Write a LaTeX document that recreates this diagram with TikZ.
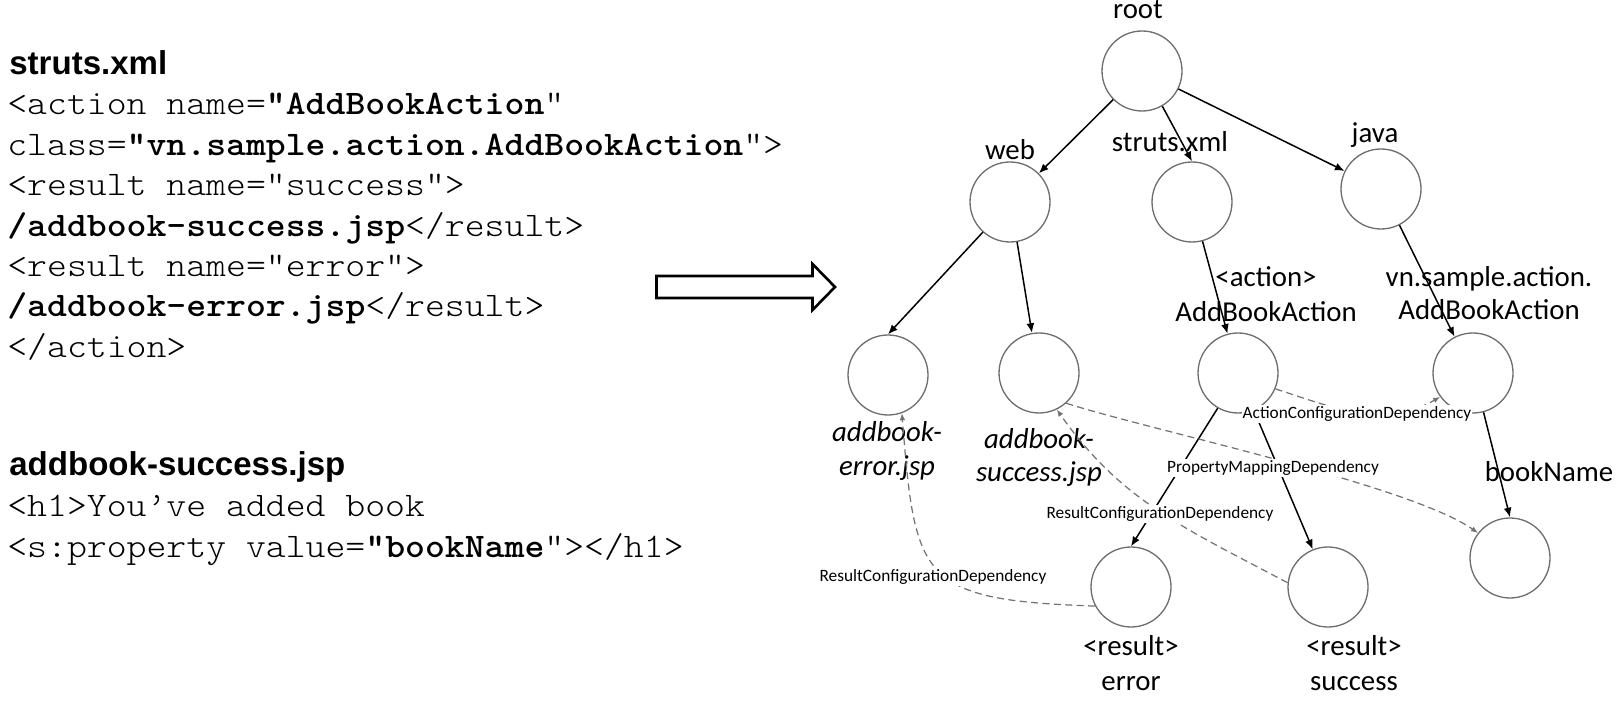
\documentclass[tikz,border=0pt]{standalone}
\usepackage{fontspec}
\setmainfont{Carlito}
\setmonofont{lmmonolt10-regular}[Extension=.otf, BoldFont=lmmonolt10-bold, FakeStretch=1.1]
\newfontfamily\headfont{Liberation Sans}
\usetikzlibrary{arrows.meta,shapes}

\begin{document}
\begin{tikzpicture}
	\tikzstyle{Dir}		= [circle, draw=black!57, line width=0.75pt, fill=white, minimum size=1.6cm, inner sep=0pt]
	\tikzstyle{Name}	= [inner sep=0pt, anchor=base, font=\fontsize{16.4}{19}\selectfont]
	\tikzstyle{File}	= [Name, font=\fontsize{16.4}{19}\selectfont\itshape]
	\tikzstyle{Dep}		= [fill=white, inner sep=0.6pt, font=\fontsize{9.85}{11}\selectfont]
	\tikzstyle{Code}	= [inner sep=0pt, anchor=base west, font=\ttfamily\fontsize{19.6}{22}\selectfont]
	\tikzstyle{Head}	= [inner sep=0pt, anchor=base west, font=\headfont\bfseries\fontsize{18.8}{22}\selectfont]
	\tikzstyle{Contain}	= [-{Latex[length=5.5pt,width=4.5pt]}, line width=0.85pt]
	\tikzstyle{Ref}		= [-{Latex[length=4pt,width=3.2pt]}, dash pattern=on 4pt off 2.5pt, line width=0.7pt, black!55]

	\useasboundingbox (0,0) rectangle (32.4,14);

	% struts.xml
	\node (hd1) at (0.18,12.50) [Head] {struts.xml};
	\node (c1) at (0.14,11.70) [Code] {<action name=\textbf{"AddBookAction}"};
	\node (c2) at (0.14,10.88) [Code] {class=\textbf{"vn.sample.action.AddBookAction}">};
	\node (c3) at (0.14,10.08) [Code] {<result name="success">};
	\node (c4) at (0.14,9.26) [Code] {\textbf{/addbook-success.jsp}</result>};
	\node (c5) at (0.14,8.46) [Code] {<result name="error">};
	\node (c6) at (0.14,7.66) [Code] {\textbf{/addbook-error.jsp}</result>};
	\node (c7) at (0.14,6.84) [Code] {</action>};

	% addbook-success.jsp
	\node (hd2) at (0.18,4.48) [Head] {addbook-success.jsp};
	\node (c8) at (0.14,3.68) [Code] {<h1>You’ve added book};
	\node (c9) at (0.14,2.86) [Code] {<s:property value=\textbf{”bookName}”></h1>};

	% hollow arrow
	\draw [line width=1.5pt, fill=white] (13.13,8.48) -- (16.25,8.48) -- (16.25,8.72) -- (16.70,8.26)
		-- (16.25,7.80) -- (16.25,8.04) -- (13.13,8.04) -- cycle;

	% tree
	\node (root) at (22.84,12.58) [Dir] {};
	\node (web) at (20.20,9.96) [Dir] {};
	\node (strutsxml) at (23.84,9.96) [Dir] {};
	\node (java) at (27.62,10.22) [Dir] {};
	\node (err) at (17.76,6.50) [Dir] {};
	\node (succ) at (20.78,6.54) [Dir] {};
	\node (action) at (24.76,6.54) [Dir] {};
	\node (cls) at (29.46,6.54) [Dir] {};
	\node (book) at (30.20,2.84) [Dir] {};
	\node (reserr) at (22.62,2.26) [Dir] {};
	\node (ressucc) at (26.56,2.26) [Dir] {};

	\node (l-root) at (22.76,13.63) [Name] {root};
	\node (l-web) at (20.20,10.80) [Name] {web};
	\node (l-struts) at (23.40,10.96) [Name] {struts.xml};
	\node (l-java) at (27.50,11.14) [Name] {java};
	\node (l-action1) at (25.32,8.26) [Name] {<action>};
	\node (l-action2) at (25.32,7.56) [Name] {AddBookAction};
	\node (l-cls1) at (29.78,8.26) [Name] {vn.sample.action.};
	\node (l-cls2) at (29.78,7.60) [Name] {AddBookAction};
	\node (l-book) at (30.98,4.36) [Name] {bookName};
	\node (l-err1) at (17.74,5.16) [File] {addbook-};
	\node (l-err2) at (17.74,4.48) [File] {error.jsp};
	\node (l-succ1) at (20.78,5.02) [File] {addbook-};
	\node (l-succ2) at (20.78,4.36) [File] {success.jsp};
	\node (l-reserr1) at (22.62,0.90) [Name] {<result>};
	\node (l-reserr2) at (22.62,0.20) [Name] {error};
	\node (l-ressucc1) at (27.08,0.90) [Name] {<result>};
	\node (l-ressucc2) at (27.08,0.20) [Name] {success};

	\draw [Contain] (root) -- (web);
	\draw [Contain] (root.300) -- (strutsxml.north);
	\draw [Contain] (root) -- (java);
	\draw [Contain] (web.228) -- (err.north);
	\draw [Contain] (web.280) -- (succ.100);
	\draw [Contain] (strutsxml.285) -- (action.105);
	\draw [Contain] (java.297) -- (cls.117);
	\draw [Contain] (action.240) -- (reserr.north);
	\draw [Contain] (action.293) -- (ressucc.112);
	\draw [Contain] (cls.285) -- (book.north);

	% dependencies
	\draw [Ref] (action.-23) to [out=-18, in=210] (cls.216);
	\draw [Ref] (succ.-48) to [out=-18, in=145, looseness=0.5] (book.142);
	\draw [Ref] (ressucc.174) to [out=152, in=-55] (succ.-64);
	\draw [Ref] (reserr.208) .. controls (18.40,2.00) and (18.30,2.40) .. (err.-70);

	\node (d-acd) at (27.14,5.72) [Dep] {ActionConfigurationDependency};
	\node (d-pmd) at (25.46,4.64) [Dep] {PropertyMappingDependency};
	\node (d-rcd1) at (23.20,3.72) [Dep] {ResultConfigurationDependency};
	\node (d-rcd2) at (18.66,2.46) [Dep] {ResultConfigurationDependency};
\end{tikzpicture}
\end{document}
